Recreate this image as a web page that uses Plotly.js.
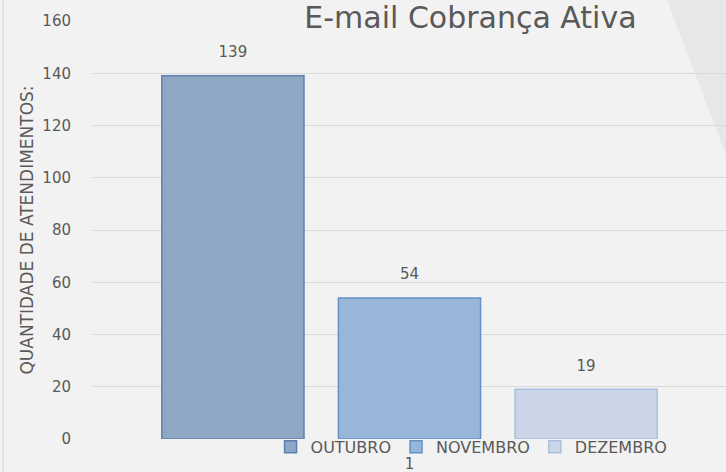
<!DOCTYPE html>
<html><head><meta charset="utf-8">
<script src="https://cdn.plot.ly/plotly-3.0.1.min.js"></script>
<style>html,body{margin:0;padding:0;background:#f2f2f2}#chart{width:726px;height:472px}</style>
</head><body><div id="chart"></div>
<script>
const categories = ["1"];
const seriesNames = ["OUTUBRO", "NOVEMBRO", "DEZEMBRO"];
const outubro = [139];
const novembro = [54];
const dezembro = [19];
const yTicks = [0, 20, 40, 60, 80, 100, 120, 140, 160];

const seriesValues = [outubro, novembro, dezembro];
const fills = ["#8fa7c4", "#98b6da", "#cad6e7"];
const borders = ["#5b80ae", "#6492c8", "#a9bfdf"];
const grey = "#595959";

const traces = [];
seriesNames.forEach((name, i) => {
  traces.push({
    type: "bar", name: name, x: categories, y: seriesValues[i],
    offsetgroup: String(i),
    marker: {color: fills[i], line: {color: borders[i], width: 1.5}},
    hoverinfo: "skip"
  });
});
seriesNames.forEach((name, i) => {
  traces.push({
    type: "scatter", mode: "markers+text", x: categories, y: seriesValues[i],
    offsetgroup: String(i), showlegend: false,
    text: seriesValues[i].map(String), textposition: "top center",
    textfont: {family: "DejaVu Sans", size: 15, color: grey},
    marker: {size: 22, color: "rgba(0,0,0,0)"},
    hoverinfo: "skip", cliponaxis: false
  });
});

const layout = {
  width: 726, height: 472,
  paper_bgcolor: "#f2f2f2", plot_bgcolor: "rgba(0,0,0,0)",
  margin: {l: 93, r: 0, t: 21, b: 33},
  barmode: "group", bargap: 0.163, bargroupgap: 0.195,
  scattermode: "group", scattergap: 0.163,
  showlegend: true,
  title: {text: "E-mail Cobrança Ativa", font: {family: "DejaVu Sans", size: 30, color: grey},
          x: 0.648, xanchor: "center", y: 0.962, yanchor: "middle"},
  xaxis: {type: "category", showgrid: false, zeroline: false, showline: false,
          ticks: "outside", ticklen: 11, tickcolor: "rgba(0,0,0,0)",
          tickfont: {family: "DejaVu Sans", size: 15, color: grey}},
  yaxis: {range: [0, 160], tickvals: yTicks, showgrid: true, gridcolor: "#d9d9d9", gridwidth: 1,
          zeroline: false, showline: false,
          ticks: "outside", ticklen: 18, tickcolor: "rgba(0,0,0,0)",
          tickfont: {family: "DejaVu Sans", size: 15, color: grey},
          title: {text: "QUANTIDADE DE ATENDIMENTOS:", font: {family: "DejaVu Sans", size: 17, color: grey}, standoff: 4}},
  legend: {orientation: "h", x: 0.598, xanchor: "center", y: -0.019, yanchor: "middle",
           bgcolor: "rgba(0,0,0,0)", font: {family: "DejaVu Sans", size: 16, color: grey},
           itemwidth: 30, traceorder: "normal"},
  shapes: [
    {type: "path", xref: "paper", yref: "paper", layer: "below",
     path: "M 0.9068 1.0502 L 1.0 1.0502 L 1.0 0.679 Z",
     fillcolor: "rgba(0,0,0,0.045)", line: {width: 0}},
    {type: "line", xref: "paper", yref: "paper", layer: "below",
     x0: -0.1422, x1: -0.1422, y0: -0.079, y1: 1.0502,
     line: {color: "#d4d4d4", width: 1}}
  ]
};

Plotly.newPlot("chart", traces, layout, {displayModeBar: false, staticPlot: true});
</script></body></html>
